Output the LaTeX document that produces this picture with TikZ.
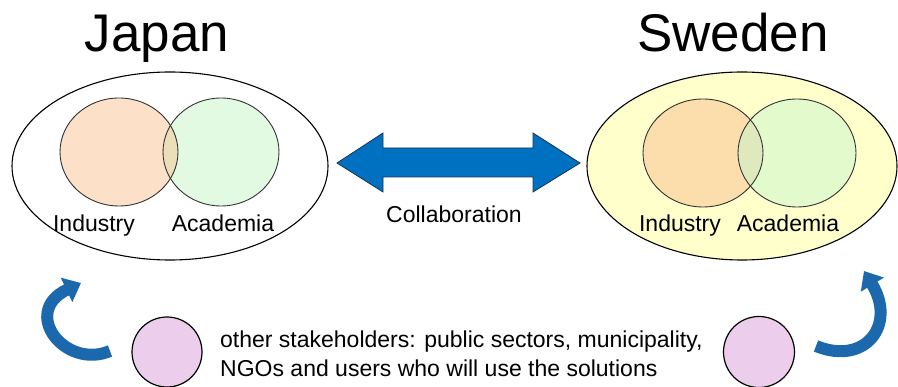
\documentclass[tikz,border=0pt]{standalone}
\usepackage{fontspec}
\setmainfont{Liberation Sans}
\usetikzlibrary{arrows.meta}
\definecolor{jind}{RGB}{252,225,200}
\definecolor{jaca}{RGB}{226,250,226}
\definecolor{jovl}{RGB}{236,222,184}
\definecolor{sout}{RGB}{255,255,204}
\definecolor{sind}{RGB}{252,222,172}
\definecolor{saca}{RGB}{226,250,204}
\definecolor{sovl}{RGB}{222,234,190}
\definecolor{stake}{RGB}{236,206,236}
\definecolor{collab}{RGB}{0,112,192}
\definecolor{collabedge}{RGB}{25,50,90}
\definecolor{curv}{RGB}{28,104,172}
\tikzset{
  title/.style={font=\fontsize{53}{60}\selectfont, inner sep=0pt, anchor=base},
  lbl/.style={font=\fontsize{23}{28}\selectfont, inner sep=0pt, anchor=base},
  body/.style={font=\fontsize{23}{28}\selectfont, inner sep=0pt, anchor=base west},
  outer/.style={draw=black, line width=1.1pt},
  venn/.style={draw=black!80, line width=0.9pt},
  stakecircle/.style={draw=black, line width=1.2pt, fill=stake},
  curvarrow/.style={draw=curv, line width=12pt, -{Triangle[width=26pt,length=16pt]}},
}
\begin{document}
\begin{tikzpicture}[x=1pt,y=-1pt]
\useasboundingbox (0,0) rectangle (898,387);
% titles
\node[title] (japan) at (157,52) {Japan};
\node[title] (sweden) at (733,52) {Sweden};
% Japan
\draw[outer, fill=white] (170,166) ellipse [x radius=158, y radius=94];
\fill[jind] (119,152) ellipse [x radius=59, y radius=54];
\fill[jaca] (221,152) ellipse [x radius=58, y radius=54];
\begin{scope}
  \clip (119,152) ellipse [x radius=59, y radius=54];
  \fill[jovl] (221,152) ellipse [x radius=58, y radius=54];
\end{scope}
\draw[venn] (119,152) ellipse [x radius=59, y radius=54];
\draw[venn] (221,152) ellipse [x radius=58, y radius=54];
\node[lbl] (jindl) at (94,232) {Industry};
\node[lbl] (jacal) at (223,232) {Academia};
% Sweden
\draw[outer, fill=sout] (742,166) ellipse [x radius=155, y radius=94];
\fill[sind] (703,153) ellipse [x radius=60, y radius=54];
\fill[saca] (797,153) ellipse [x radius=59, y radius=54];
\begin{scope}
  \clip (703,153) ellipse [x radius=60, y radius=54];
  \fill[sovl] (797,153) ellipse [x radius=59, y radius=54];
\end{scope}
\draw[venn] (703,153) ellipse [x radius=60, y radius=54];
\draw[venn] (797,153) ellipse [x radius=59, y radius=54];
\node[lbl] (sindl) at (680,232) {Industry};
\node[lbl] (sacal) at (788,232) {Academia};
% collaboration arrow
\draw[fill=collab, draw=collabedge, line width=0.8pt, line join=miter]
  (337,163) -- (383,133) -- (383,148) -- (533,148) -- (533,133) -- (580,163)
  -- (533,192) -- (533,177) -- (383,177) -- (383,192) -- cycle;
\node[lbl] (collabl) at (454,223) {Collaboration};
% stakeholders
\node[stakecircle, circle, minimum size=70pt, inner sep=0pt] (stakeL) at (167,352) {};
\node[stakecircle, circle, minimum size=71pt, inner sep=0pt] (stakeR) at (759,352) {};
\node[body] (line1) at (220,348) {other stakeholders: public sectors, municipality,};
\node[body] (line2) at (220,377) {NGOs and users who will use the solutions};
% curved arrows
\draw[curvarrow] (110,351) .. controls (65,370) and (20,312) .. (81,283);
\draw[curvarrow] (816,346) .. controls (865,366) and (897,325) .. (864,271);
\end{tikzpicture}
\end{document}
